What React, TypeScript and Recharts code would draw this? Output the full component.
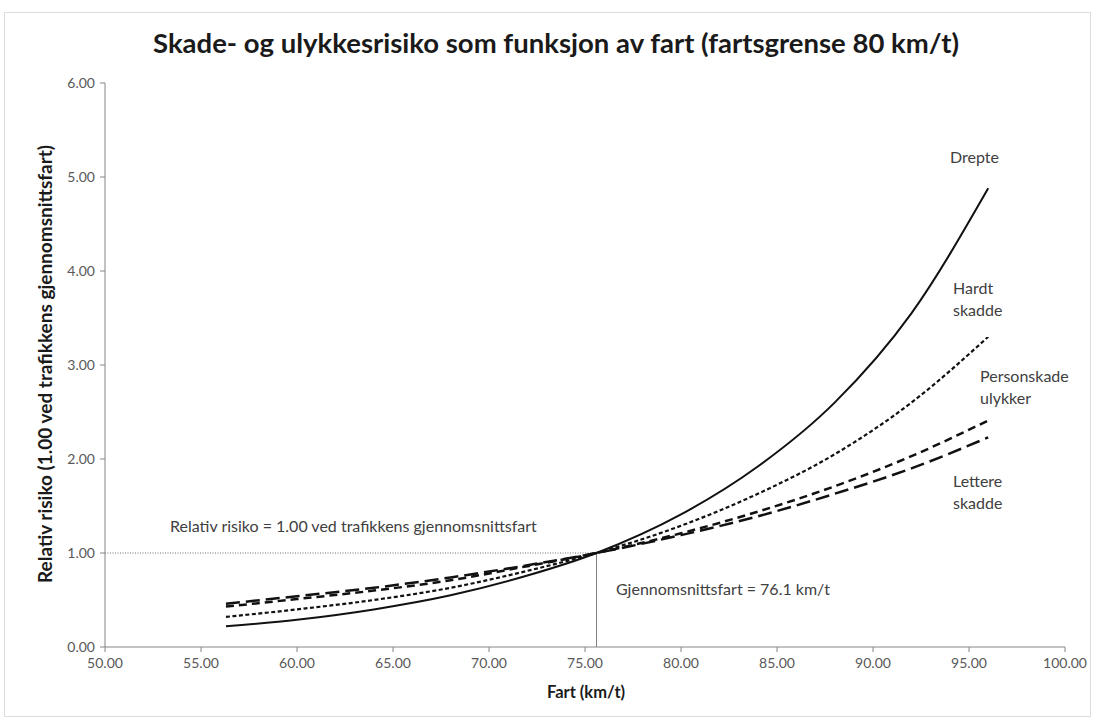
import { LineChart, Line, XAxis, YAxis, ReferenceLine } from "recharts";

// speed (km/t) and relative risk per severity
const speeds = [56.3, 60, 64, 68, 72, 75.6, 80, 84, 88, 92, 96];
const drepte = [0.22, 0.29, 0.4, 0.55, 0.76, 1.0, 1.41, 1.92, 2.6, 3.55, 4.88];
const hardtSkadde = [0.32, 0.4, 0.5, 0.63, 0.81, 1.0, 1.29, 1.63, 2.05, 2.6, 3.3];
const personskade = [0.43, 0.51, 0.6, 0.71, 0.86, 1.0, 1.21, 1.44, 1.71, 2.03, 2.41];
const lettereSkadde = [0.46, 0.54, 0.63, 0.74, 0.87, 1.0, 1.19, 1.39, 1.63, 1.9, 2.23];

const xTicks = [50, 55, 60, 65, 70, 75, 80, 85, 90, 95, 100];
const yTicks = [0, 1, 2, 3, 4, 5, 6];
const avgSpeed = 75.6;

const data = speeds.map((fart, i) => ({
  fart,
  drepte: drepte[i],
  hardt: hardtSkadde[i],
  person: personskade[i],
  lettere: lettereSkadde[i],
}));

const font = "Lato, 'Open Sans', sans-serif";
const note = { position: "absolute" as const, fontFamily: font, fontSize: 16, color: "#404040", lineHeight: "22px" };

export default function App() {
  return (
    <div style={{ position: "absolute", left: 0, top: 0, width: 1094, height: 720, background: "#fff" }}>
      <div style={{ position: "absolute", left: 4, top: 12, width: 1085, height: 703, border: "1px solid #dcdcdc" }} />
      <div
        style={{
          position: "absolute",
          left: 0,
          width: 1094,
          top: 26,
          textAlign: "center",
          fontFamily: font,
          fontWeight: 700,
          fontSize: 27.5,
          color: "#1a1a1a",
          paddingLeft: 18,
          boxSizing: "border-box",
        }}
      >
        Skade- og ulykkesrisiko som funksjon av fart (fartsgrense 80 km/t)
      </div>

      <LineChart
        width={1094}
        height={720}
        data={data}
        margin={{ top: 83, right: 29, bottom: 43, left: 45 }}
        style={{ position: "absolute", left: 0, top: 0 }}
      >
        <XAxis
          type="number"
          dataKey="fart"
          domain={[50, 100]}
          ticks={xTicks}
          tickFormatter={(v: number) => v.toFixed(2)}
          stroke="#868686"
          tickSize={5}
          height={30}
          tick={{ fill: "#595959", fontSize: 14, fontFamily: font, dy: 4 }}
        />
        <YAxis
          type="number"
          domain={[0, 6]}
          ticks={yTicks}
          tickFormatter={(v: number) => v.toFixed(2)}
          stroke="#868686"
          tickSize={5}
          width={60}
          tick={{ fill: "#595959", fontSize: 14, fontFamily: font, dx: -3 }}
        />
        <ReferenceLine
          segment={[{ x: 50, y: 1 }, { x: avgSpeed, y: 1 }]}
          stroke="#6f6f6f"
          strokeDasharray="1 1.5"
        />
        <ReferenceLine
          segment={[{ x: avgSpeed, y: 0 }, { x: avgSpeed, y: 1 }]}
          stroke="#7f7f7f"
        />
        <Line type="monotone" dataKey="lettere" stroke="#111" strokeWidth={2.5} strokeDasharray="14 6" dot={false} isAnimationActive={false} />
        <Line type="monotone" dataKey="person" stroke="#111" strokeWidth={2.5} strokeDasharray="8 5" dot={false} isAnimationActive={false} />
        <Line type="monotone" dataKey="hardt" stroke="#111" strokeWidth={2.2} strokeDasharray="4 2.5" dot={false} isAnimationActive={false} />
        <Line type="monotone" dataKey="drepte" stroke="#111" strokeWidth={2} dot={false} isAnimationActive={false} />
      </LineChart>

      <div
        style={{
          position: "absolute",
          left: 44,
          top: 364,
          transform: "translate(-50%, -50%) rotate(-90deg)",
          whiteSpace: "nowrap",
          fontFamily: font,
          fontWeight: 700,
          fontSize: 19,
          color: "#1a1a1a",
        }}
      >
        Relativ risiko (1.00 ved trafikkens gjennomsnittsfart)
      </div>
      <div
        style={{
          position: "absolute",
          left: 586,
          top: 692,
          transform: "translate(-50%, -50%)",
          whiteSpace: "nowrap",
          fontFamily: font,
          fontWeight: 700,
          fontSize: 16.5,
          color: "#1a1a1a",
        }}
      >
        Fart (km/t)
      </div>

      <div style={{ ...note, left: 950, top: 146 }}>Drepte</div>
      <div style={{ ...note, left: 953, top: 277 }}>
        Hardt
        <br />
        skadde
      </div>
      <div style={{ ...note, left: 980, top: 365 }}>
        Personskade
        <br />
        ulykker
      </div>
      <div style={{ ...note, left: 953, top: 470 }}>
        Lettere
        <br />
        skadde
      </div>
      <div style={{ ...note, left: 170, top: 515, whiteSpace: "nowrap" }}>
        Relativ risiko = 1.00 ved trafikkens gjennomsnittsfart
      </div>
      <div style={{ ...note, left: 616, top: 578, whiteSpace: "nowrap" }}>Gjennomsnittsfart = 76.1 km/t</div>
    </div>
  );
}
